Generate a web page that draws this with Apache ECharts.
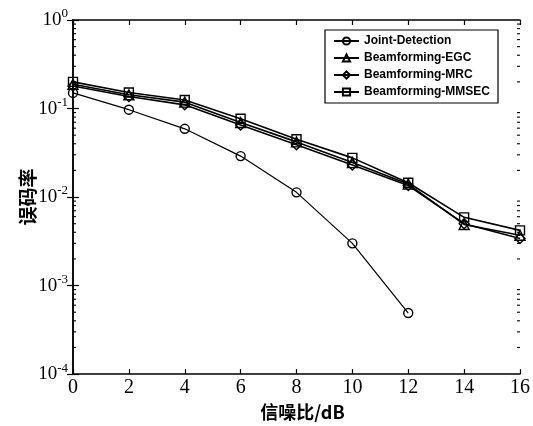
<!DOCTYPE html>
<html>
<head>
<meta charset="utf-8">
<script src="https://cdn.jsdelivr.net/npm/echarts@6/dist/echarts.min.js"></script>
<style>html,body{margin:0;padding:0;background:#fff}#c{width:533px;height:426px}</style>
</head>
<body>
<div id="c"></div>
<script>
var snr = [0, 2, 4, 6, 8, 10, 12, 14, 16];
var jointDetection = [0.150, 0.097, 0.059, 0.029, 0.0113, 0.0030, 0.00049];
var beamEGC = [0.188, 0.143, 0.118, 0.0695, 0.042, 0.0245, 0.0140, 0.0049, 0.0037];
var beamMRC = [0.180, 0.137, 0.110, 0.065, 0.039, 0.023, 0.0135, 0.0050, 0.0034];
var beamMMSEC = [0.200, 0.152, 0.125, 0.0766, 0.045, 0.0277, 0.0145, 0.0059, 0.0042];
var xTicks = [0, 2, 4, 6, 8, 10, 12, 14, 16];
var yDecades = [-4, -3, -2, -1, 0];

function pairs(vals) { return vals.map(function (v, i) { return [snr[i], v]; }); }

var minorVals = [];
for (var d = yDecades[0]; d < yDecades[yDecades.length - 1]; d++) {
  for (var k = 2; k <= 9; k++) minorVals.push([xTicks[0], k * Math.pow(10, d)]);
}

var serif = 'Liberation Serif';
var lineStyle = { color: '#000', width: 1.6 };
function sym(s, size) {
  return { symbol: s, symbolSize: size, showAllSymbol: true,
    itemStyle: { color: 'rgba(255,255,255,0)', borderColor: '#000', borderWidth: 1.4 } };
}

var chart = echarts.init(document.getElementById('c'), null, { renderer: 'canvas' });
var xMin = xTicks[0], xMax = xTicks[xTicks.length - 1];
var yMin = Math.pow(10, yDecades[0]), yMax = Math.pow(10, yDecades[yDecades.length - 1]);

var option = {
  animation: false,
  backgroundColor: '#fff',
  grid: { left: 73, right: 12, top: 20, bottom: 48 },
  legend: {
    data: ['Joint-Detection', 'Beamforming-EGC', 'Beamforming-MRC', 'Beamforming-MMSEC'],
    orient: 'vertical', left: 325, top: 30,
    padding: [5, 8, 5, 8], itemGap: 5, itemWidth: 25, itemHeight: 9,
    borderColor: '#000', borderWidth: 1.2, backgroundColor: '#fff',
    textStyle: { fontFamily: 'Liberation Sans', fontWeight: 'bold', fontSize: 12, color: '#000' },
    selectedMode: false
  },
  xAxis: [{
    type: 'value', min: xMin, max: xMax, interval: 2, position: 'bottom',
    name: '信噪比/dB', nameLocation: 'middle', nameGap: 27,
    nameTextStyle: { fontFamily: 'Noto Sans CJK SC', fontWeight: 'bold', fontSize: 18, color: '#000', padding: [0, 0, 0, 12] },
    axisLine: { lineStyle: { color: '#000', width: 1.5 } },
    axisTick: { inside: true, length: 5, lineStyle: { color: '#000', width: 1.2 } },
    axisLabel: { fontFamily: serif, fontSize: 20, color: '#000', margin: 4 },
    splitLine: { show: false }
  }, {
    type: 'value', min: xMin, max: xMax, interval: 2, position: 'top',
    axisLine: { lineStyle: { color: '#000', width: 1.5 } },
    axisTick: { inside: true, length: 5, lineStyle: { color: '#000', width: 1.2 } },
    axisLabel: { show: false }, splitLine: { show: false }
  }],
  yAxis: [{
    type: 'log', logBase: 10, min: yMin, max: yMax, position: 'left',
    name: '误码率', nameLocation: 'middle', nameGap: 36, nameRotate: 90, nameMoveOverlap: false,
    nameTextStyle: { fontFamily: 'Noto Sans CJK SC', fontWeight: 'bold', fontSize: 19, color: '#000' },
    axisLine: { lineStyle: { color: '#000', width: 1.5 } },
    axisTick: { inside: true, length: 6, lineStyle: { color: '#000', width: 1.2 } },
    axisLabel: {
      margin: 5, color: '#000',
      formatter: function (v) { var e = Math.round(Math.log10(v)); return '{b|10}{s|' + (e < 0 ? '-' + (-e) : e) + '}'; },
      rich: {
        b: { fontFamily: serif, fontSize: 19, color: '#000' },
        s: { fontFamily: serif, fontSize: 13, color: '#000', padding: [0, 0, 12, 0] }
      }
    },
    splitLine: { show: false }
  }, {
    type: 'log', logBase: 10, min: yMin, max: yMax, position: 'right',
    axisLine: { lineStyle: { color: '#000', width: 1.5 } },
    axisTick: { inside: true, length: 6, lineStyle: { color: '#000', width: 1.2 } },
    axisLabel: { show: false }, splitLine: { show: false }
  }],
  series: [
    {
      type: 'custom', silent: true, xAxisIndex: 0, yAxisIndex: 0, data: minorVals, z: 1,
      renderItem: function (params, api) {
        var v = api.value(1);
        var p = api.coord([xMin, v]);
        var q = api.coord([xMax, v]);
        var st = { stroke: '#000', lineWidth: 1.1 };
        return { type: 'group', children: [
          { type: 'line', shape: { x1: p[0], y1: p[1], x2: p[0] + 3, y2: p[1] }, style: st },
          { type: 'line', shape: { x1: q[0] - 3, y1: q[1], x2: q[0], y2: q[1] }, style: st }
        ] };
      }
    },
    Object.assign({ name: 'Joint-Detection', type: 'line', data: pairs(jointDetection), lineStyle: { color: '#000', width: 1.2 } }, sym('circle', 9)),
    Object.assign({ name: 'Beamforming-EGC', type: 'line', data: pairs(beamEGC), lineStyle: lineStyle }, sym('triangle', 10)),
    Object.assign({ name: 'Beamforming-MRC', type: 'line', data: pairs(beamMRC), lineStyle: lineStyle }, sym('diamond', 10)),
    Object.assign({ name: 'Beamforming-MMSEC', type: 'line', data: pairs(beamMMSEC), lineStyle: lineStyle }, sym('rect', 9))
  ]
};
chart.setOption(option);
</script>
</body>
</html>
